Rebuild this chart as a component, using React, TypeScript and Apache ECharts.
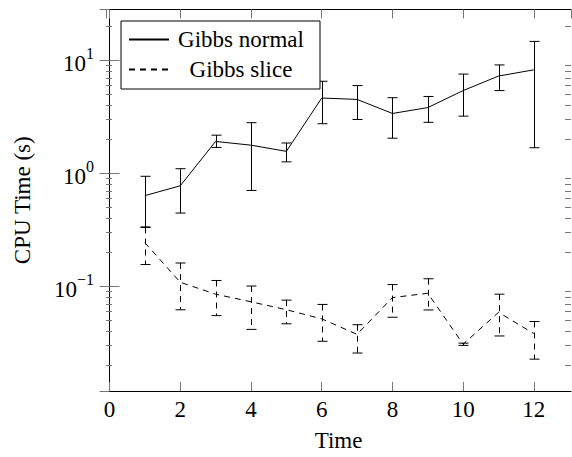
import React, { useEffect, useRef } from "react";
import * as echarts from "echarts";

const FONT = "Liberation Serif";

const times = [1, 2, 3, 4, 5, 6, 7, 8, 9, 10, 11, 12];

const normalMean = [0.632, 0.773, 1.91, 1.77, 1.56, 4.63, 4.5, 3.38, 3.81, 5.39, 7.25, 8.23];
const normalLow = [0.334, 0.443, 1.69, 0.703, 1.26, 2.74, 2.99, 2.04, 2.82, 3.2, 5.39, 1.68];
const normalHigh = [0.938, 1.095, 2.17, 2.8, 1.85, 6.52, 5.97, 4.66, 4.78, 7.55, 9.1, 14.7];

const sliceMean = [0.242, 0.108, 0.0847, 0.0725, 0.0617, 0.0512, 0.0373, 0.079, 0.0863, 0.0305, 0.0585, 0.0379];
const sliceLow = [0.155, 0.0616, 0.0547, 0.0413, 0.0463, 0.0324, 0.0255, 0.0529, 0.0614, 0.0298, 0.0361, 0.0225];
const sliceHigh = [0.33, 0.16, 0.112, 0.1, 0.075, 0.0687, 0.0454, 0.103, 0.116, 0.0312, 0.0847, 0.0485];

const minorTickValues = [
  0.02, 0.03, 0.04, 0.05, 0.06, 0.07, 0.08, 0.09,
  0.2, 0.3, 0.4, 0.5, 0.6, 0.7, 0.8, 0.9,
  2, 3, 4, 5, 6, 7, 8, 9,
  20,
];

const X_MIN = -0.1;
const X_MAX = 13.05;
const Y_MIN = 0.01175;
const Y_MAX = 28.18;

const TICK_COLOR = "#777";

function errorBarSeries(name: string, lows: number[], highs: number[], dashed: boolean) {
  return {
    type: "custom",
    name: name + "-err",
    silent: true,
    xAxisIndex: 0,
    yAxisIndex: 0,
    encode: { x: 0, y: [1, 2] },
    data: times.map((t, i) => [t, lows[i], highs[i]]),
    renderItem: (params: any, api: any) => {
      const x = api.value(0);
      const lo = api.coord([x, api.value(1)]);
      const hi = api.coord([x, api.value(2)]);
      const w = 5;
      const px = Math.round(lo[0]) + 0.5;
      const style: any = { stroke: "#000", lineWidth: 1, fill: null };
      const barStyle: any = { ...style, lineDash: dashed ? [6, 5] : null };
      return {
        type: "group",
        children: [
          { type: "line", shape: { x1: px, y1: hi[1], x2: px, y2: lo[1] }, style: barStyle },
          { type: "line", shape: { x1: px - w, y1: hi[1], x2: px + w, y2: hi[1] }, style },
          { type: "line", shape: { x1: px - w, y1: lo[1], x2: px + w, y2: lo[1] }, style },
        ],
      };
    },
  };
}

export default function App() {
  const ref = useRef<HTMLDivElement>(null);
  useEffect(() => {
    document.body.style.margin = "0";
    if (!ref.current) return;
    const chart = echarts.init(ref.current, null, { renderer: "svg" });
    const supMap: Record<string, string> = { "-": "\u2212" };
    const yLabel = (v: number) => {
      const e = Math.round(Math.log10(v));
      const s = String(e).split("").map((c) => supMap[c] || c).join("");
      return "{b|10}{s|" + s + "}";
    };
    const option: any = {
      animation: false,
      backgroundColor: "#fff",
      textStyle: { fontFamily: FONT },
      grid: { left: 106, right: 1, top: 9.5, bottom: 60.5, containLabel: false },
      legend: {
        left: 121,
        top: 21,
        orient: "vertical",
        backgroundColor: "#fff",
        borderColor: "#000",
        borderWidth: 1,
        borderRadius: 0,
        padding: [7, 12, 8, 7],
        itemWidth: 40,
        itemHeight: 14,
        itemGap: 7,
        itemStyle: { opacity: 0 },
        data: ["Gibbs normal", "Gibbs slice"],
        formatter: (n: string) => "{c|" + n + "}",
        textStyle: {
          fontFamily: FONT,
          fontSize: 23,
          color: "#000",
          rich: {
            c: { width: 134, align: "center", fontFamily: FONT, fontSize: 23, lineHeight: 27, color: "#000" },
          },
        },
      },
      xAxis: [
        {
          type: "value",
          min: X_MIN,
          max: X_MAX,
          splitNumber: 6,
          position: "bottom",
          name: "Time",
          nameLocation: "middle",
          nameGap: 38,
          nameTextStyle: { fontFamily: FONT, fontSize: 23, color: "#000" },
          axisLine: { show: true, lineStyle: { color: "#000", width: 1 } },
          axisTick: { show: true, inside: true, length: 9, lineStyle: { color: TICK_COLOR, width: 1 } },
          axisLabel: {
            showMinLabel: false,
            showMaxLabel: false,
            margin: 7,
            fontFamily: FONT,
            fontSize: 23,
            color: "#000",
          },
          splitLine: { show: false },
        },
        {
          type: "value",
          min: X_MIN,
          max: X_MAX,
          splitNumber: 6,
          position: "top",
          axisLine: { show: true, lineStyle: { color: "#000", width: 1 } },
          axisTick: { show: true, inside: true, length: 9, lineStyle: { color: TICK_COLOR, width: 1 } },
          axisLabel: { show: false },
          splitLine: { show: false },
        },
      ],
      yAxis: [
        {
          type: "log",
          logBase: 10,
          min: Y_MIN,
          max: Y_MAX,
          position: "left",
          name: "CPU Time (s)",
          nameLocation: "middle",
          nameGap: 72,
          nameRotate: 90,
          nameTextStyle: { fontFamily: FONT, fontSize: 23, color: "#000" },
          axisLine: { show: true, lineStyle: { color: "#000", width: 1 } },
          axisTick: { show: true, inside: true, length: 10, lineStyle: { color: TICK_COLOR, width: 1 } },
          axisLabel: {
            showMinLabel: false,
            showMaxLabel: false,
            margin: 12,
            formatter: yLabel,
            fontFamily: FONT,
            rich: {
              b: { fontFamily: FONT, fontSize: 23, color: "#000", lineHeight: 30, verticalAlign: "bottom" },
              s: { fontFamily: FONT, fontSize: 16, color: "#000", lineHeight: 30, verticalAlign: "top" },
            },
          },
          splitLine: { show: false },
        },
        {
          type: "log",
          logBase: 10,
          min: Y_MIN,
          max: Y_MAX,
          position: "right",
          axisLine: { show: true, lineStyle: { color: "#000", width: 1 } },
          axisTick: { show: true, inside: true, length: 10, lineStyle: { color: TICK_COLOR, width: 1 } },
          axisLabel: { show: false },
          splitLine: { show: false },
        },
      ],
      series: [
        {
          type: "line",
          name: "Gibbs normal",
          data: times.map((t, i) => [t, normalMean[i]]),
          symbol: "none",
          lineStyle: { color: "#000", width: 1, type: "solid" },
          itemStyle: { color: "#000" },
          z: 3,
        },
        {
          type: "line",
          name: "Gibbs slice",
          data: times.map((t, i) => [t, sliceMean[i]]),
          symbol: "none",
          lineStyle: { color: "#000", width: 1, type: [6, 5] },
          itemStyle: { color: "#000" },
          z: 3,
        },
        errorBarSeries("Gibbs normal", normalLow, normalHigh, false),
        errorBarSeries("Gibbs slice", sliceLow, sliceHigh, true),
        {
          type: "custom",
          name: "minor-ticks",
          silent: true,
          xAxisIndex: 0,
          yAxisIndex: 0,
          encode: { y: 0 },
          data: minorTickValues.map((v) => [v]),
          renderItem: (params: any, api: any) => {
            const p = api.coord([X_MIN, api.value(0)]);
            const cs = params.coordSys;
            const y = Math.round(p[1]) + 0.5;
            const left = cs.x;
            const right = cs.x + cs.width;
            const len = 6;
            const style = { stroke: TICK_COLOR, lineWidth: 1 };
            return {
              type: "group",
              children: [
                { type: "line", shape: { x1: left, y1: y, x2: left + len, y2: y }, style },
                { type: "line", shape: { x1: right - len, y1: y, x2: right, y2: y }, style },
              ],
            };
          },
        },
      ],
    };
    chart.setOption(option);
    return () => chart.dispose();
  }, []);
  return <div ref={ref} style={{ width: 572, height: 457 }} />;
}
